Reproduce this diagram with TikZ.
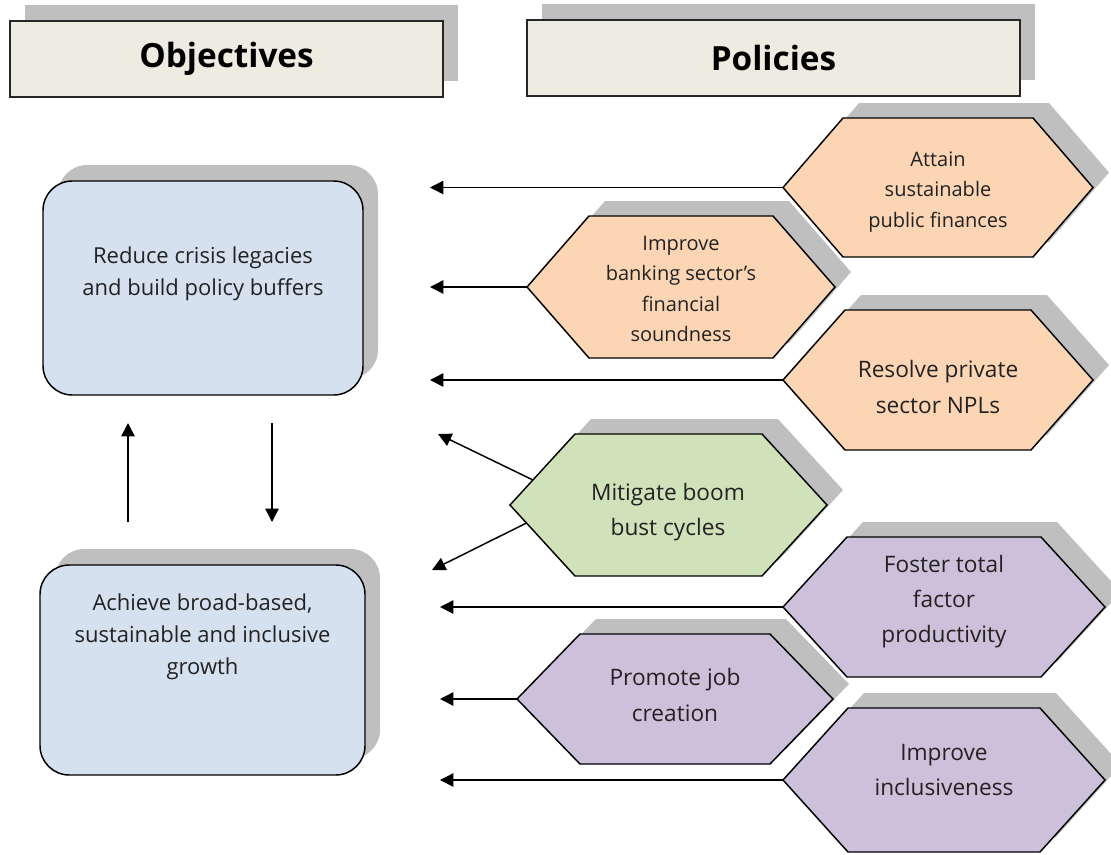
\documentclass[tikz,border=0pt]{standalone}
\usepackage{fontspec}
\setmainfont{Open Sans}
\usetikzlibrary{arrows.meta,shadows}
\definecolor{hdrfill}{HTML}{EEECE1}
\definecolor{hdrline}{HTML}{262626}
\definecolor{bluefill}{HTML}{D5E1EF}
\definecolor{orangefill}{HTML}{FCD5B5}
\definecolor{greenfill}{HTML}{D0E2BA}
\definecolor{purplefill}{HTML}{CCC0DA}
\definecolor{shadowc}{HTML}{BFBFBF}
\definecolor{textc}{HTML}{222222}
% #1 name, #2 x left, #3 x right, #4 y top, #5 y bottom, #6 inset, #7 fill
\newcommand\hexa[7]{%
  \fill[shadowc, shift={(16,-15)}] ({#2+#6},#4) -- ({#3-#6},#4) -- (#3,{(#4+#5)/2}) -- ({#3-#6},#5) -- ({#2+#6},#5) -- (#2,{(#4+#5)/2}) -- cycle;
  \filldraw[fill=#7, hexs] ({#2+#6},#4) -- ({#3-#6},#4) -- (#3,{(#4+#5)/2}) -- ({#3-#6},#5) -- ({#2+#6},#5) -- (#2,{(#4+#5)/2}) -- cycle;
  \coordinate (#1) at (#2,{(#4+#5)/2});
}
\begin{document}
\begin{tikzpicture}[x=0.75pt,y=-0.75pt,
  hexs/.style={draw=black, line width=1.1pt, line join=miter},
  arr/.style={-{Triangle[length=10pt,width=10pt]}, line width=1.1pt, draw=black},
  header/.style={draw=hdrline, line width=1.6pt, fill=hdrfill, minimum height=76*0.75pt,
    font=\fontsize{25}{30}\selectfont\bfseries, text=black,
    drop shadow={shadow xshift=11.5pt, shadow yshift=12pt, fill=shadowc, opacity=1}},
  objbox/.style={draw=black, line width=1.1pt, fill=bluefill, rounded corners=22pt,
    drop shadow={shadow xshift=11.25pt, shadow yshift=12pt, fill=shadowc, opacity=1}},
  boxtxt/.style={align=center, text=textc, inner sep=0pt, font=\fontsize{16.5}{24}\selectfont},
  smalltxt/.style={align=center, text=textc, inner sep=0pt, font=\fontsize{15}{22.9}\selectfont},
  bigtxt/.style={align=center, text=textc, inner sep=0pt, font=\fontsize{17}{26.3}\selectfont}
]
\useasboundingbox (0,0) rectangle (1111,854);

% headers
\node[header, minimum width=433*0.75pt] (hobj) at (226.5,59) {Objectives};
\node[header, minimum width=493*0.75pt] (hpol) at (773.5,58) {Policies};

% objective boxes
\node[objbox, minimum width=320*0.75pt, minimum height=214*0.75pt] (obj1) at (203,288) {};
\node[boxtxt] (obj1t) at (203,274) {Reduce crisis legacies\\and build policy buffers};
\node[objbox, minimum width=325*0.75pt, minimum height=210*0.75pt] (obj2) at (202.5,670) {};
\node[boxtxt] (obj2t) at (202.5,637) {Achieve broad-based,\\sustainable and inclusive\\growth};

% hexagons
\hexa{h1}{783}{1093}{118}{257}{60}{orangefill}
\hexa{h2}{527}{835}{216}{358}{62}{orangefill}
\hexa{h3}{783}{1093}{310}{450}{62}{orangefill}
\hexa{h4}{510}{827}{434}{576}{65}{greenfill}
\hexa{h5}{783}{1105}{537}{677}{64}{purplefill}
\hexa{h6}{517}{833}{634}{764}{63}{purplefill}
\hexa{h7}{783}{1105}{708}{852}{65}{purplefill}

\node[smalltxt] (h1t) at (938,192) {Attain\\sustainable\\public finances};
\node[smalltxt] (h2t) at (681,289) {Improve\\banking sector’s\\financial\\soundness};
\node[bigtxt] (h3t) at (938,387) {Resolve private\\sector NPLs};
\node[bigtxt] (h4t) at (668,512) {Mitigate boom\\bust cycles};
\node[bigtxt] (h5t) at (944,602) {Foster total\\factor\\productivity};
\node[bigtxt] (h6t) at (675,695) {Promote job\\creation};
\node[bigtxt] (h7t) at (944,770) {Improve\\inclusiveness};

% arrow end points
\coordinate (e1) at (430,187.5);
\coordinate (e2) at (430,287);
\coordinate (e3) at (430,380);
\coordinate (h4a) at (533,480);
\coordinate (h4b) at (526.5,523);
\coordinate (e4a) at (438,434);
\coordinate (e4b) at (432,570);
\coordinate (e5) at (440,607);
\coordinate (e6) at (440,699);
\coordinate (e7) at (440,780);

\draw[arr] (h1) -- (e1);
\draw[arr] (h2) -- (e2);
\draw[arr] (h3) -- (e3);
\draw[arr] (h4a) -- (e4a);
\draw[arr] (h4b) -- (e4b);
\draw[arr] (h5) -- (e5);
\draw[arr] (h6) -- (e6);
\draw[arr] (h7) -- (e7);

% vertical arrows between objectives
\coordinate (upS) at (128,522);
\coordinate (upE) at (128,423);
\coordinate (dnS) at (272,423);
\coordinate (dnE) at (272,522);
\draw[arr] (upS) -- (upE);
\draw[arr] (dnS) -- (dnE);
\end{tikzpicture}
\end{document}
